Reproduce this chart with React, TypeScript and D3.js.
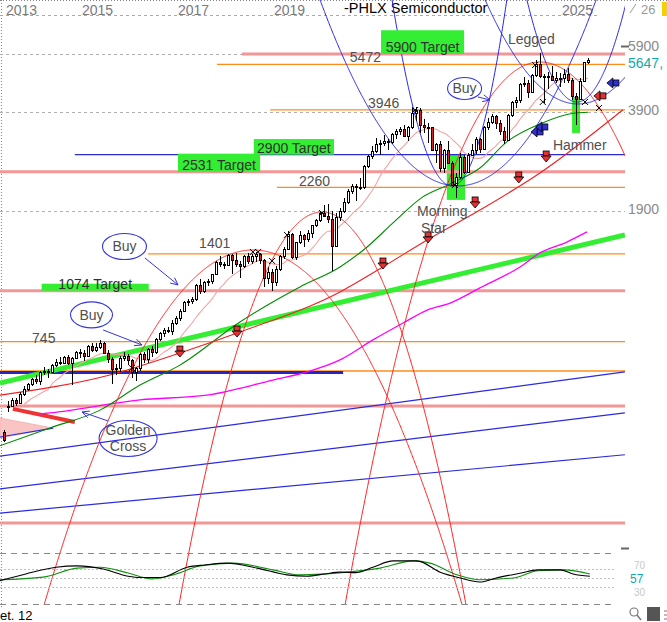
import React from 'react';
import * as d3 from 'd3';

const W = 667, H = 622;
const FONT = "'Liberation Sans', Arial, Helvetica, sans-serif";

// ---- Monthly candles, May 2013 .. Jul 2025 ----
const firstMonthIndex = 4; // May 2013 (0 = Jan 2013)
const opens = [
  390, 465, 468, 490, 478, 512, 530, 548,
  570, 560, 598, 605, 600, 630, 645, 640, 665, 640, 662, 690,
  687, 672, 722, 700, 718, 740, 688, 655, 610, 615, 660, 672,
  652, 600, 615, 680, 655, 705, 690, 760, 790, 810, 805, 850,
  880, 930, 990, 1000, 1010, 1120, 1070, 1140, 1150, 1210, 1320, 1300,
  1290, 1385, 1340, 1300, 1280, 1375, 1330, 1375, 1400, 1340, 1180, 1230,
  1140, 1260, 1380, 1450, 1620, 1370, 1520, 1600, 1560, 1630, 1720, 1790,
  1880, 1840, 1800, 1480, 1830, 1900, 2040, 2200, 2280, 2270, 2260, 2640,
  2840, 2930, 3080, 3110, 3150, 3140, 3320, 3380, 3440, 3260, 3480, 3850,
  3950, 3540, 3480, 3480, 2960, 3090, 2600, 2950, 2700, 2300, 2430, 2820,
  2530, 2860, 2960, 3200, 2980, 3480, 3630, 3790, 3600, 3400, 3180, 3800,
  4190, 4240, 4750, 4800, 4490, 5060, 5500, 5050, 5000, 5050, 4880, 4950,
  4980, 5100, 4900, 4350, 4280, 4870, 5560,
];
const highs = [
  395, 485, 495, 498, 518, 540, 555, 575,
  585, 602, 620, 612, 635, 655, 665, 670, 675, 665, 698, 705,
  700, 728, 735, 738, 752, 745, 700, 665, 632, 670, 690, 680,
  655, 622, 688, 690, 710, 720, 765, 798, 822, 830, 870, 895,
  940, 995, 1010, 1030, 1125, 1170, 1150, 1165, 1215, 1335, 1380, 1320,
  1400, 1395, 1410, 1330, 1385, 1410, 1395, 1420, 1410, 1350, 1270, 1260,
  1280, 1390, 1470, 1650, 1630, 1530, 1650, 1620, 1660, 1730, 1800, 1900,
  1990, 2000, 1900, 1880, 1950, 2090, 2230, 2310, 2320, 2420, 2660, 2860,
  3050, 3220, 3180, 3300, 3200, 3340, 3450, 3500, 3550, 3510, 4000, 4040,
  3990, 3700, 3580, 3500, 3120, 3150, 2980, 3150, 2740, 2500, 2900, 2850,
  2900, 3080, 3250, 3230, 3520, 3720, 3840, 3810, 3680, 3500, 3820, 4220,
  4320, 4800, 5000, 4900, 5100, 5650, 5930, 5100, 5200, 5400, 5200, 5150,
  5300, 5350, 4950, 4450, 4950, 5580, 5720,
];
const lows = [
  362, 450, 465, 470, 475, 505, 522, 540,
  548, 545, 585, 575, 595, 622, 630, 632, 630, 545, 655, 660,
  650, 668, 690, 692, 705, 680, 640, 550, 585, 598, 650, 630,
  575, 560, 605, 640, 640, 665, 680, 750, 770, 790, 780, 840,
  865, 920, 960, 975, 1000, 1050, 1055, 1110, 1130, 1205, 1270, 1255,
  1280, 1210, 1270, 1180, 1265, 1300, 1300, 1320, 1300, 1100, 1130, 1070,
  1110, 1240, 1350, 1440, 1350, 1340, 1500, 1470, 1530, 1570, 1700, 1760,
  1820, 1750, 1240, 1490, 1780, 1880, 2000, 2150, 2050, 2220, 2230, 2600,
  2780, 2900, 2850, 3050, 2950, 3080, 3200, 3300, 3240, 3150, 3440, 3650,
  3350, 3330, 3100, 2940, 2700, 2520, 2500, 2680, 2280, 2100, 2400, 2480,
  2500, 2850, 2880, 2900, 2950, 3420, 3560, 3450, 3300, 3080, 3170, 3760,
  4000, 4150, 4650, 4300, 4450, 5000, 4950, 4150, 4600, 4850, 4800, 4650,
  4800, 4800, 4250, 3550, 4250, 4850, 5480,
];
const closes = [
  368, 468, 490, 478, 512, 530, 548, 570,
  560, 598, 605, 600, 630, 645, 640, 665, 640, 662, 690, 687,
  672, 722, 700, 718, 740, 688, 655, 610, 615, 660, 672, 652,
  600, 615, 680, 655, 705, 690, 760, 790, 810, 805, 850, 880,
  930, 990, 1000, 1010, 1120, 1070, 1140, 1150, 1210, 1320, 1300, 1290,
  1385, 1340, 1300, 1280, 1375, 1330, 1375, 1400, 1340, 1180, 1230, 1140,
  1260, 1380, 1450, 1620, 1370, 1520, 1600, 1560, 1630, 1720, 1790, 1880,
  1840, 1800, 1480, 1830, 1900, 2040, 2200, 2280, 2270, 2260, 2640, 2840,
  2930, 3080, 3110, 3150, 3140, 3320, 3380, 3440, 3260, 3480, 3850, 3950,
  3540, 3480, 3480, 2960, 3090, 2600, 2950, 2700, 2300, 2430, 2820, 2530,
  2860, 2960, 3200, 2980, 3480, 3630, 3790, 3600, 3400, 3180, 3800, 4190,
  4240, 4750, 4800, 4490, 5060, 5500, 5050, 5000, 5050, 4880, 4950, 4980,
  5100, 4900, 4350, 4280, 4870, 5560, 5647,
];

// ---- axis / labels ----
const yearLabels = [2013, 2015, 2017, 2019, 2025];
const rightAxisValues = [5900, 3900, 1900];
const rightAxisDy = [-3, 3, 3];
const oscGuides = [70, 50, 30];

// ---- horizontal levels [value, startYear] ----
const pinkLevels: [number, number][] = [[5900, 2018.33], [2531, 2013.29], [1074, 2013.29], [469, 2013.29], [202, 2013.29]];
const orangeLevels: [number, number][] = [[5472, 2017.81], [3946, 2018.92], [2260, 2019.06], [1401, 2016.375], [745, 2013.29], [603, 2013.29]];
const blueThinLevel: [number, number] = [2860, 2014.85];
const blueThickLevel: [number, number, number] = [597, 2013.29, 2020.44];
const levelLabels: [string, number, number, number][] = [
  ['5472', 5472, 2020.58, -2], ['3946', 3946, 2020.96, -2], ['2260', 2260, 2019.52, -1],
  ['1401', 1401, 2017.44, -6], ['745', 745, 2013.96, 1],
];
const targets: [string, number, number, number, number][] = [
  // label, tStart, tEnd, vTop, vBottom
  ['5900 Target', 2021.23, 2022.96, 7000, 5900],
  ['2900 Target', 2018.58, 2020.25, 3200, 2860],
  ['2531 Target', 2017.0, 2018.71, 2880, 2531],
  ['1074 Target', 2014.16, 2016.39, 1130, 1074],
];

// ---- moving averages / trend curves [year, value] ----
const darkGreenMA: [number, number][] = [
  [2013.29, 352], [2014.33, 400], [2015.375, 455], [2016.21, 545], [2017.04, 629], [2018.29, 858],
  [2019.54, 1104], [2020.375, 1275], [2020.94, 1472], [2021.48, 1750], [2022.1, 2110], [2022.67, 2317],
  [2023.29, 2598], [2023.85, 3134], [2024.54, 3566], [2025.27, 3860], [2025.54, 3880],
];
const magentaMA: [number, number][] = [
  [2014.125, 443], [2014.33, 446], [2016.21, 490], [2017.6, 507], [2018.98, 565], [2019.69, 599],
  [2020.375, 653], [2021.06, 754], [2021.69, 852], [2022.19, 935], [2022.67, 983], [2023.29, 1096],
  [2024.125, 1275], [2024.54, 1410], [2025.1, 1525], [2025.52, 1640],
];
const redSupport: [number, number][] = [
  [2013.29, 507], [2015.58, 586], [2017.04, 686], [2018.29, 798], [2020.375, 1065], [2021.27, 1275],
  [2022.19, 1548], [2023.29, 1920], [2024.54, 2506], [2026.27, 3950],
];
const greenTrend: [number, number][] = [[2013.29, 553], [2026.31, 1604]];
const blueChannel: [number, number][][] = [
  [[2013.29, 327], [2026.31, 599]],
  [[2013.29, 258], [2026.31, 446]],
  [[2013.29, 217], [2026.31, 330]],
  [[2013.29, 375], [2014.4, 400]],
  [[2013.29, 553], [2014.19, 595]],
];
const redThick: [number, number][] = [[2013.56, 459], [2014.85, 418]];
const pinkFan: [number, number][] = [[2013.29, 430], [2014.4, 400], [2013.29, 372]];

// ---- arcs: [tLeft, tApex, tRight, vApex, vEnd] ----
const redArcs: [number, number, number, number, number][] = [
  [2014.21, 2018.5625, 2022.92, 1440, 112],
  [2017.02, 2020.0, 2023.0, 1893, 112],
  [2020.48, 2024.54, 2028.81, 5570, 112],
];
const blueArcs: [number, number, number, number, number][] = [
  [2019.96, 2022.83, 2025.71, 2283, 8700],
  [2021.46, 2022.71, 2023.85, 2283, 8700],
  [2024.27, 2025.31, 2026.35, 4178, 8700],
  [2023.4, 2025.33, 2027.27, 4118, 8700],
];

// ---- markers ----
const redDownArrows: [number, number][] = [
  [2017.04, 691], [2018.23, 798], [2021.27, 1302], [2022.21, 1571], [2023.19, 2020], [2024.1, 2418], [2024.67, 2812],
];
const leftArrows: [number, number, string][] = [
  [2025.79, 4365, '#e03030'], [2026.06, 4790, '#3030d0'], [2024.48, 3368, '#3030d0'], [2024.58, 3490, '#3030d0'],
];
const xMarks: [number, number][] = [
  [2018.56, 1420], [2018.67, 1420], [2019.27, 1605], [2018.96, 1331], [2020.0, 1880], [2021.94, 3944],
  [2022.77, 2300], [2024.44, 5450], [2024.6, 4178], [2025.48, 4178], [2025.77, 4000], [2016.04, 616],
];
const patternBoxes: [number, number, number, number][] = [
  [2022.6, 2022.98, 2854, 2065],
  [2025.21, 2025.375, 4330, 3343],
];
const ellipses: [string[], number, number, number, number][] = [
  [['Buy'], 2015.885, 1477, 22, 13],
  [['Buy'], 2015.198, 903, 21, 13],
  [['Buy'], 2022.97, 4605, 17, 11],
  [['Golden', 'Cross'], 2015.96, 371, 29, 18],
];
const blueArrows: [number, number, number, number][] = [
  [2016.31, 1360, 2017.0, 1120],
  [2015.44, 810, 2016.25, 727],
  [2023.25, 4330, 2023.5, 4238],
  [2015.54, 421, 2015.0, 449],
];
const patternTexts: [string, number, number][] = [
  ['Legged', 2023.875, 6340], ['Hammer', 2024.81, 2956], ['Morning', 2021.98, 1839], ['Star', 2022.06, 1628],
];

// ---- oscillator [year, value] ----
const oscBlack: [number, number][] = [
  [2013.29, 44], [2013.83, 59], [2014.46, 74], [2014.9, 77], [2015.44, 70], [2015.96, 54], [2016.21, 51],
  [2016.63, 51], [2017.19, 74], [2017.56, 79], [2018.02, 83], [2018.65, 72], [2019.27, 57], [2019.69, 54],
  [2020.06, 59], [2020.38, 63], [2020.7, 62], [2021.06, 74], [2021.48, 88], [2021.98, 88], [2022.46, 63],
  [2022.88, 50], [2023.29, 41], [2023.63, 50], [2024.15, 61], [2024.5, 68], [2024.96, 68], [2025.23, 59],
  [2025.58, 54],
];
const oscGreen: [number, number][] = [
  [2013.29, 46], [2014.19, 52], [2014.9, 72], [2015.38, 74], [2015.96, 61], [2016.45, 48], [2016.9, 57],
  [2017.46, 77], [2018.15, 83], [2018.98, 68], [2019.54, 57], [2020.52, 63], [2021.21, 72], [2021.9, 88],
  [2022.25, 83], [2022.81, 57], [2023.29, 46], [2023.98, 50], [2024.5, 66], [2025.04, 68], [2025.58, 59],
];
const oscCurrent = 57;

const x = d3.scaleLinear().domain([2019, 2025]).range([274, 562]);
const y = d3.scaleLog().domain([745, 5900]).range([341.6, 54]);
const yo = d3.scaleLinear().domain([30, 70]).range([587, 569]);
const T1 = 2026.3125;
const XR = x(T1);

const line = d3.line<[number, number]>().x(d => x(d[0])).y(d => y(d[1]));
const smooth = d3.line<[number, number]>().x(d => x(d[0])).y(d => y(d[1])).curve(d3.curveMonotoneX);
const oscLine = d3.line<[number, number]>().x(d => x(d[0])).y(d => yo(d[1])).curve(d3.curveMonotoneX);

function arcPath(a: [number, number, number, number, number]) {
  const [tL, tA, tR, vA, vE] = a;
  const lA = Math.log(vA), lE = Math.log(vE);
  const cL = (lA - lE) / ((tA - tL) ** 2);
  const cR = (lA - lE) / ((tR - tA) ** 2);
  const pts: [number, number][] = [];
  for (const t of d3.range(tL, tR + 0.001, 0.01)) {
    const c = t < tA ? cL : cR;
    pts.push([t, Math.exp(lA - c * (t - tA) ** 2)]);
  }
  return line(pts) || '';
}

export default function App() {
  const candles = opens.map((o, i) => ({
    t: 2013 + (firstMonthIndex + i + 0.5) / 12, o, h: highs[i], l: lows[i], c: closes[i],
  }));
  const smaPts: [number, number][] = [];
  closes.forEach((_, i) => {
    if (i < 5) return;
    const m = d3.mean(closes.slice(Math.max(0, i - 11), i + 1)) as number;
    smaPts.push([candles[i].t, m]);
  });
  const last = closes[closes.length - 1];

  return (
    <svg width={W} height={H} style={{ position: 'fixed', left: 0, top: 0, background: '#fff' }} fontFamily={FONT}>
      <defs>
        <clipPath id="plot"><rect x={0} y={0} width={XR} height={605} /></clipPath>
      </defs>
      <rect x={0} y={0} width={W} height={H} fill="#fff" />
      {/* frame dotted */}
      <line x1={0} x2={W} y1={0.5} y2={0.5} stroke="#888" strokeDasharray="1,2" />
      <line x1={1.5} x2={1.5} y1={0} y2={608} stroke="#888" strokeDasharray="1,2" />
      <line x1={0} x2={600} y1={15.5} y2={15.5} stroke="#aaa" strokeDasharray="3,3" />
      {rightAxisValues.map(v => (
        <line key={'g' + v} x1={0} x2={XR} y1={Math.round(y(v)) + 0.5} y2={Math.round(y(v)) + 0.5} stroke="#b0b0b0" strokeDasharray="3,3" />
      ))}

      {/* year labels */}
      {yearLabels.map(yr => (
        <text key={yr} x={Math.max(6, x(yr))} y={15} fontSize={14} fill="#7a7a7a">{yr}</text>
      ))}
      <text x={344} y={13} fontSize={14.5} fill="#000">-PHLX Semiconductor</text>

      {/* pattern highlight boxes */}
      {patternBoxes.map((b, i) => (
        <rect key={'pb' + i} x={x(b[0])} y={y(b[2])} width={x(b[1]) - x(b[0])} height={y(b[3]) - y(b[2])} fill="#33ee33" />
      ))}

      <g clipPath="url(#plot)">
        {/* pink fan */}
        <path d={(line(pinkFan) || '') + 'Z'} fill="#f8c4c4" stroke="#f0a0a0" strokeWidth={0.6} />
        {/* horizontal levels */}
        {pinkLevels.map(([v, t0]) => (
          <line key={'p' + v} x1={x(t0)} x2={XR} y1={y(v)} y2={y(v)} stroke="#f39696" strokeWidth={3} />
        ))}
        {orangeLevels.map(([v, t0]) => (
          <line key={'o' + v} x1={x(t0)} x2={XR} y1={y(v)} y2={y(v)} stroke="#ff8c1a" strokeWidth={1.3} />
        ))}
        <line x1={x(blueThinLevel[1])} x2={XR} y1={y(blueThinLevel[0])} y2={y(blueThinLevel[0])} stroke="#2a2ad0" strokeWidth={1.3} />
        <line x1={x(blueThickLevel[1])} x2={x(blueThickLevel[2])} y1={y(blueThickLevel[0])} y2={y(blueThickLevel[0])} stroke="#2626c8" strokeWidth={3} />

        {/* channels */}
        {blueChannel.map((seg, i) => (
          <path key={'bc' + i} d={line(seg) || ''} stroke="#2a2ae0" strokeWidth={1.2} fill="none" />
        ))}
        <path d={line(redThick) || ''} stroke="#ee3333" strokeWidth={4} fill="none" />
        <path d={line(greenTrend) || ''} stroke="#33ee33" strokeWidth={5} fill="none" />
        <path d={smooth(magentaMA) || ''} stroke="#ff00ff" strokeWidth={1.3} fill="none" />
        <path d={smooth(darkGreenMA) || ''} stroke="#008a00" strokeWidth={1.1} fill="none" />
        <path d={smooth(smaPts) || ''} stroke="#f4a4a4" strokeWidth={1.1} fill="none" />
        <path d={smooth(redSupport) || ''} stroke="#ee2020" strokeWidth={1.1} fill="none" />

        {/* arcs */}
        {redArcs.map((a, i) => (
          <path key={'ra' + i} d={arcPath(a)} stroke="#ff2020" strokeWidth={1} fill="none" />
        ))}
        {blueArcs.map((a, i) => (
          <path key={'ba' + i} d={arcPath(a)} stroke="#2424e8" strokeWidth={1} fill="none" />
        ))}
      </g>

      {/* candles */}
      <g shapeRendering="crispEdges">
        {candles.map((d, i) => {
          const cx = Math.round(x(d.t));
          const top = Math.round(y(Math.max(d.o, d.c)));
          const bot = Math.round(y(Math.min(d.o, d.c)));
          return (
            <g key={'c' + i}>
              <line x1={cx + 0.5} x2={cx + 0.5} y1={y(d.h)} y2={y(d.l)} stroke="#000" />
              <rect x={cx - 0.5} y={top + 0.5} width={2} height={Math.max(1, bot - top)} fill={d.c >= d.o ? '#fff' : '#dd2020'} stroke="#000" />
            </g>
          );
        })}
      </g>

      {/* x marks */}
      {xMarks.map(([t, v], i) => {
        const cx = x(t), cy = y(v);
        return (
          <g key={'x' + i} stroke="#000" strokeWidth={1}>
            <line x1={cx - 3} x2={cx + 3} y1={cy - 3} y2={cy + 3} />
            <line x1={cx - 3} x2={cx + 3} y1={cy + 3} y2={cy - 3} />
          </g>
        );
      })}

      {/* arrows */}
      {redDownArrows.map(([t, v], i) => {
        const cx = x(t), cy = y(v);
        return (
          <g key={'rd' + i} fill="#e83030" stroke="#000" strokeWidth={0.8}>
            <rect x={cx - 3} y={cy - 6} width={6} height={5} />
            <polygon points={`${cx - 5},${cy - 1} ${cx + 5},${cy - 1} ${cx},${cy + 5}`} />
          </g>
        );
      })}
      {leftArrows.map(([t, v, col], i) => {
        const cx = x(t), cy = y(v);
        return (
          <g key={'la' + i} fill={col} stroke="#000" strokeWidth={0.8}>
            <rect x={cx} y={cy - 3} width={6} height={6} />
            <polygon points={`${cx - 6},${cy} ${cx},${cy - 5} ${cx},${cy + 5}`} />
          </g>
        );
      })}

      {/* target boxes */}
      {targets.map(([lab, t0, t1, vt, vb]) => (
        <g key={lab}>
          <rect x={x(t0)} y={y(vt)} width={x(t1) - x(t0)} height={y(vb) - y(vt)} fill="#33ee33" />
          <text x={(x(t0) + x(t1)) / 2} y={y(vb) - 2} fontSize={14} fill="#303030" textAnchor="middle">{lab}</text>
        </g>
      ))}

      {/* level labels */}
      {levelLabels.map(([lab, v, t, dy]) => (
        <text key={lab} x={x(t)} y={y(v) + dy} fontSize={14} fill="#505050">{lab}</text>
      ))}
      {patternTexts.map(([lab, t, v]) => (
        <text key={lab} x={x(t)} y={y(v)} fontSize={14} fill="#505050">{lab}</text>
      ))}

      {/* ellipses & arrows */}
      {ellipses.map(([lines, t, v, rx, ry], i) => (
        <g key={'el' + i}>
          <ellipse cx={x(t)} cy={y(v)} rx={rx} ry={ry} fill="none" stroke="#3535e0" strokeWidth={1.1} />
          {lines.map((s, j) => (
            <text key={s} x={x(t)} y={y(v) + 5 + (j - (lines.length - 1) / 2) * 16} fontSize={14} fill="#505050" textAnchor="middle">{s}</text>
          ))}
        </g>
      ))}
      {blueArrows.map(([ta, va, tb, vb], i) => {
        const x1 = x(ta), y1 = y(va), x2 = x(tb), y2 = y(vb);
        const ang = Math.atan2(y2 - y1, x2 - x1);
        const hl = 8;
        const h1 = [x2 - hl * Math.cos(ang - 0.45), y2 - hl * Math.sin(ang - 0.45)];
        const h2 = [x2 - hl * Math.cos(ang + 0.45), y2 - hl * Math.sin(ang + 0.45)];
        return (
          <g key={'bar' + i} stroke="#3535e0" strokeWidth={1} fill="none">
            <line x1={x1} y1={y1} x2={x2} y2={y2} />
            <polyline points={`${h1[0]},${h1[1]} ${x2},${y2} ${h2[0]},${h2[1]}`} />
          </g>
        );
      })}

      {/* right axis */}
      <line x1={621} x2={629} y1={46.5} y2={46.5} stroke="#666" strokeWidth={2} />
      {rightAxisValues.map((v, i) => (
        <text key={'rav' + v} x={628} y={y(v) + rightAxisDy[i]} fontSize={14} fill="#8a8a8a">{v}</text>
      ))}
      <text x={628} y={y(last) + 8} fontSize={14} fill="#10aaaa">{`${last},`}</text>

      {/* oscillator panel */}
      <line x1={0} x2={615} y1={553.5} y2={553.5} stroke="#888" strokeDasharray="6,5" />
      <line x1={0} x2={615} y1={604.5} y2={604.5} stroke="#888" strokeDasharray="6,5" />
      {oscGuides.map(g => (
        <line key={'og' + g} x1={0} x2={615} y1={Math.round(yo(g)) + 0.5} y2={Math.round(yo(g)) + 0.5} stroke="#c0c0c0" strokeDasharray="2,2" />
      ))}
      <path d={oscLine(oscGreen) || ''} stroke="#109010" strokeWidth={1.1} fill="none" />
      <path d={oscLine(oscBlack) || ''} stroke="#000" strokeWidth={1.1} fill="none" />
      <line x1={621} x2={629} y1={548.5} y2={548.5} stroke="#666" strokeWidth={2} />
      <text x={634} y={yo(70)} fontSize={10} fill="#c8c8c8">70</text>
      <text x={634} y={yo(30) + 9} fontSize={10} fill="#c8c8c8">30</text>
      <text x={630} y={yo(oscCurrent) + 8} fontSize={12} fill="#10aaaa">{oscCurrent}</text>

      {/* misc decorations */}
      <text x={0} y={620} fontSize={13} fill="#000">et. 12</text>
      <line x1={630} x2={636} y1={13} y2={4} stroke="#999" />
      <text x={641} y={14} fontSize={13} fill="#999">26</text>
      <rect x={662} y={2} width={5} height={14} fill="#f2d200" />
      <circle cx={634} cy={612} r={4} fill="none" stroke="#777" strokeWidth={1.2} />
      <line x1={637} x2={641} y1={615} y2={620} stroke="#777" strokeWidth={1.5} />
      <rect x={647} y={607} width={13} height={14} fill="#555" />
      <line x1={664} x2={667} y1={611} y2={611} stroke="#777" />
      <line x1={664} x2={667} y1={615} y2={615} stroke="#777" />
      <line x1={664} x2={667} y1={619} y2={619} stroke="#777" />
    </svg>
  );
}
